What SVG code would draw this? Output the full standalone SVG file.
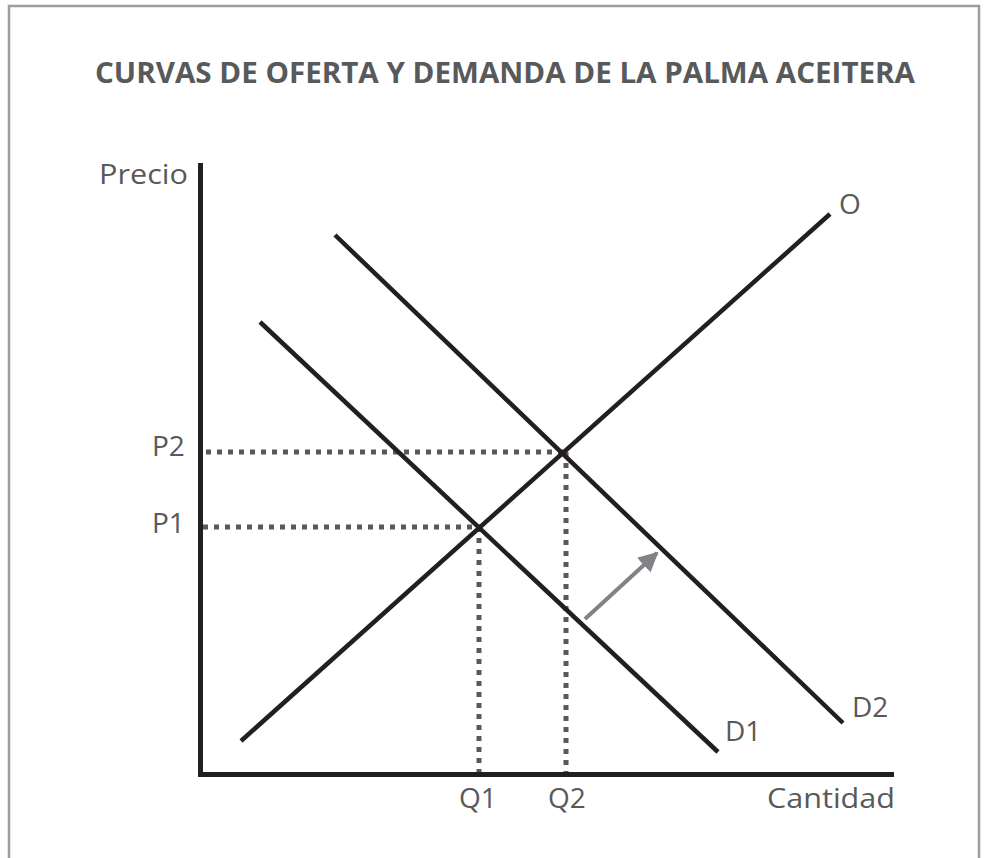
<svg xmlns="http://www.w3.org/2000/svg" width="986" height="858" viewBox="0 0 986 858">
<style>
.lbl{font-family:"Open Sans","Liberation Sans",sans-serif;font-size:28px;fill:#58595b}
.curve{stroke:#231f20;stroke-width:4.5;fill:none}
.axis{stroke:#231f20;stroke-width:5;fill:none}
.dot{stroke:#58595b;stroke-width:5;stroke-dasharray:5 6;fill:none}
</style>
<defs>
<marker id="ah" viewBox="0 0 10 10" refX="9" refY="5" markerWidth="5" markerHeight="5" orient="auto" markerUnits="strokeWidth">
<path d="M0,0 L10,5 L0,10 Z" fill="#808285"/>
</marker>
</defs>
<rect x="0" y="0" width="986" height="858" fill="#ffffff"/>
<rect x="9" y="6" width="970" height="860" fill="none" stroke="#9d9d9d" stroke-width="2.5"/>
<text id="title" x="95" y="83" textLength="820" lengthAdjust="spacingAndGlyphs" style="font-family:'Open Sans','Liberation Sans',sans-serif;font-size:28px;font-weight:700;fill:#58595b">CURVAS DE OFERTA Y DEMANDA DE LA PALMA ACEITERA</text>
<g id="axes">
<polyline class="axis" points="200.5,163 200.5,774.5 894,774.5"/>
<text class="lbl" x="99" y="184" textLength="89" lengthAdjust="spacingAndGlyphs">Precio</text>
<text class="lbl" x="767" y="808" textLength="128" lengthAdjust="spacingAndGlyphs">Cantidad</text>
</g>
<g id="guides">
<line class="dot" x1="206" y1="452" x2="566" y2="452"/>
<line class="dot" x1="203" y1="527" x2="480" y2="527"/>
<line class="dot" x1="479" y1="527" x2="479" y2="772"/>
<line class="dot" x1="566" y1="452" x2="566" y2="772"/>
</g>
<g id="curve-O">
<line class="curve" x1="241" y1="741" x2="830" y2="214"/>
<text class="lbl" x="839" y="214">O</text>
</g>
<g id="curve-D1">
<line class="curve" x1="260" y1="322" x2="718" y2="752"/>
<text class="lbl" x="725" y="741">D1</text>
</g>
<g id="curve-D2">
<line class="curve" x1="335" y1="235" x2="843" y2="723"/>
<text class="lbl" x="852" y="717">D2</text>
</g>
<g id="labels">
<text class="lbl" x="152" y="456">P2</text>
<text class="lbl" x="152" y="533">P1</text>
<text class="lbl" x="478" y="808" text-anchor="middle">Q1</text>
<text class="lbl" x="567" y="808" text-anchor="middle">Q2</text>
</g>
<g id="connectors">
<line x1="585" y1="619" x2="657" y2="553" stroke="#808285" stroke-width="4" marker-end="url(#ah)"/>
</g>
</svg>
